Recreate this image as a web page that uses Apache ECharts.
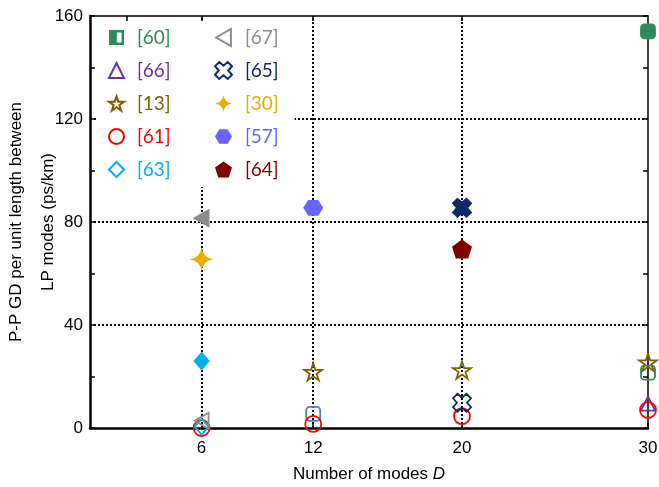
<!DOCTYPE html>
<html>
<head>
<meta charset="utf-8">
<script src="https://cdn.jsdelivr.net/npm/echarts@6/dist/echarts.min.js"></script>
<style>
  html, body { margin: 0; padding: 0; background: #fff; }
  #chart { width: 659px; height: 487px; }
</style>
</head>
<body>
<div id="chart"></div>
<script>
// tick values
const xTicks = [6, 12, 20, 30];
const xTopTicks = [2, 6, 12, 20];
const xGrid = [6, 12, 20];
const yGrid = [40, 80, 120];

// [x, y, filled?] per reference
const ref60 = [[30, 154, 1], [30, 21.5, 0]];
const ref60b = [[12, 5.5, 0]];
const ref66 = [[30, 9.5, 0]];
const ref13 = [[12, 21.8, 0], [20, 22.5, 0], [30, 25.5, 0]];
const ref61 = [[6, 0, 0], [12, 1.6, 0], [20, 4.6, 0], [30, 7, 0]];
const ref63 = [[6, 26, 1], [6, 0.5, 0]];
const ref67 = [[6, 81.5, 1], [6, 2.8, 0]];
const ref65 = [[20, 85.5, 1], [20, 9.8, 0]];
const ref30 = [[6, 65.5, 1]];
const ref57 = [[12, 85.5, 1]];
const ref64 = [[20, 69.5, 1]];

const starPath = "path://M50 0 L61.2 34.5 L97.6 34.5 L68.2 55.9 L79.4 90.5 L50 69.1 L20.6 90.5 L31.8 55.9 L2.4 34.5 L38.8 34.5 Z";
const pentPath = "path://M50 0 L97.6 34.5 L79.4 90.5 L20.6 90.5 L2.4 34.5 Z";
const hexPath = "path://M0 50 L25 6.7 L75 6.7 L100 50 L75 93.3 L25 93.3 Z";
const spark = "path://M50 0 Q56 44 100 50 Q56 56 50 100 Q44 56 0 50 Q44 44 50 0 Z";
const xPath = "path://M25 0 L50 22 L75 0 L100 25 L78 50 L100 75 L75 100 L50 78 L25 100 L0 75 L22 50 L0 25 Z";
const leftTri = "path://M0 50 L87 0 L87 100 Z";
const halfSq = "path://M0 0 L100 0 L100 100 L0 100 Z M52 16 L52 84 L84 84 L84 16 Z";

const fontAx = "Liberation Sans";

function mk(name, pts, color, symbol, size, hollow) {
  return {
    name: name,
    type: "scatter",
    z: 3,
    symbol: symbol,
    symbolSize: size,
    symbolKeepAspect: true,
    itemStyle: hollow
      ? { color: "rgba(255,255,255,0)", borderColor: color, borderWidth: 1.8, opacity: 1 }
      : { color: color, borderColor: color, borderWidth: 0, opacity: 1 },
    data: pts.map((p) => ({
      value: [p[0], p[1]],
      itemStyle: p[2] ? { color: color } : undefined,
    })),
  };
}

const cols = {
  "[60]": "#2e8b57",
  "[66]": "#7030a0",
  "[13]": "#7f6000",
  "[61]": "#ff0000",
  "[63]": "#00b0f0",
  "[67]": "#8c8c8c",
  "[65]": "#0f2a66",
  "[30]": "#e5b000",
  "[57]": "#6666ff",
  "[64]": "#800000",
};

let chart = echarts.init(document.getElementById("chart"));

const s60 = mk("[60]", ref60, cols["[60]"], "roundRect", 14, true);
s60.data = s60.data.concat(ref60b.map((p) => ({
  value: [p[0], p[1]],
  itemStyle: { borderColor: "#4f81bd" },
})));

const series = [
  {
    name: "grid",
    type: "scatter",
    z: 1,
    data: [],
    markLine: {
      silent: true,
      symbol: "none",
      z: 1,
      label: { show: false },
      lineStyle: { color: "#000", type: [2, 2], width: 2 },
      data: xGrid.map((v) => ({ xAxis: v })).concat(yGrid.map((v) => ({ yAxis: v }))),
    },
  },
  s60,
  mk("[66]", ref66, cols["[66]"], "triangle", 14, true),
  mk("[13]", ref13, cols["[13]"], starPath, 18, true),
  mk("[61]", ref61, cols["[61]"], "circle", 16, true),
  mk("[63]", ref63, cols["[63]"], "diamond", [14, 16], true),
  mk("[67]", ref67, cols["[67]"], leftTri, 16, true),
  mk("[65]", ref65, cols["[65]"], xPath, 18, true),
  mk("[30]", ref30, cols["[30]"], spark, 24, false),
  mk("[57]", ref57, cols["[57]"], hexPath, [20, 18], false),
  mk("[64]", ref64, cols["[64]"], pentPath, 20, false),
];

const legendText = { fontFamily: "Lato", fontSize: 19, padding: [0, 0, 0, 8] };
const legItem = (n) => ({ name: n, textStyle: { color: cols[n] } });

chart.setOption({
  animation: false,
  grid: { left: 90, right: 11, top: 16, bottom: 59, containLabel: false, outerBoundsMode: "none" },
  legend: [
    {
      orient: "vertical",
      left: 98,
      top: 22,
      padding: [6, 42, 8, 10],
      backgroundColor: "#fff",
      itemWidth: 15,
      itemHeight: 15,
      itemGap: 14,
      textStyle: legendText,
      data: [
        { name: "[60]", icon: halfSq, itemStyle: { color: cols["[60]"], borderWidth: 0 }, textStyle: { color: cols["[60]"] } },
        legItem("[66]"),
        legItem("[13]"),
        legItem("[61]"),
        legItem("[63]"),
      ],
    },
    {
      orient: "vertical",
      left: 186,
      top: 22,
      padding: [6, 16, 8, 28],
      backgroundColor: "#fff",
      itemWidth: 17,
      itemHeight: 17,
      itemGap: 14,
      textStyle: legendText,
      data: [legItem("[67]"), legItem("[65]"), legItem("[30]"), legItem("[57]"), legItem("[64]")],
    },
  ],
  xAxis: [
    {
      type: "value",
      min: 0,
      max: 30,
      position: "bottom",
      name: "Number of modes {i|D}",
      nameLocation: "middle",
      nameGap: 38,
      nameMoveOverlap: false,
      nameTextStyle: {
        fontFamily: fontAx,
        fontSize: 17,
        color: "#000",
        rich: { i: { fontFamily: fontAx, fontSize: 17, fontStyle: "italic", color: "#000" } },
      },
      axisLine: { onZero: false, lineStyle: { color: "#000", width: 2.5 } },
      axisTick: { inside: true, length: 5, customValues: xTicks, lineStyle: { color: "#000", width: 1.5 } },
      axisLabel: { customValues: xTicks, margin: 12, fontFamily: fontAx, fontSize: 17, color: "#000" },
      splitLine: { show: false },
    },
    {
      type: "value",
      min: 0,
      max: 30,
      position: "top",
      axisLine: { onZero: false, lineStyle: { color: "#000", width: 1.5 } },
      axisTick: { inside: true, length: 5, customValues: xTopTicks, lineStyle: { color: "#000", width: 1.5 } },
      axisLabel: { show: false },
      splitLine: { show: false },
    },
  ],
  yAxis: [
    {
      type: "value",
      min: 0,
      max: 160,
      interval: 20,
      position: "left",
      name: "P-P GD per unit length between\nLP modes (ps/km)",
      nameLocation: "middle",
      nameGap: 26,
      nameMoveOverlap: false,
      nameTextStyle: { fontFamily: fontAx, fontSize: 17, color: "#000", lineHeight: 32, align: "center" },
      axisLine: { onZero: false, lineStyle: { color: "#000", width: 2.5 } },
      axisTick: { inside: true, length: 5, lineStyle: { color: "#000", width: 1.5 } },
      axisLabel: {
        margin: 7,
        fontFamily: fontAx,
        fontSize: 17,
        color: "#000",
        formatter: (v) => (v % 40 === 0 ? String(v) : ""),
      },
      splitLine: { show: false },
    },
    {
      type: "value",
      min: 0,
      max: 160,
      interval: 20,
      position: "right",
      axisLine: { onZero: false, lineStyle: { color: "#000", width: 1.5 } },
      axisTick: { inside: true, length: 5, lineStyle: { color: "#000", width: 1.5 } },
      axisLabel: { show: false },
      splitLine: { show: false },
    },
  ],
  series: series,
});
</script>
</body>
</html>
